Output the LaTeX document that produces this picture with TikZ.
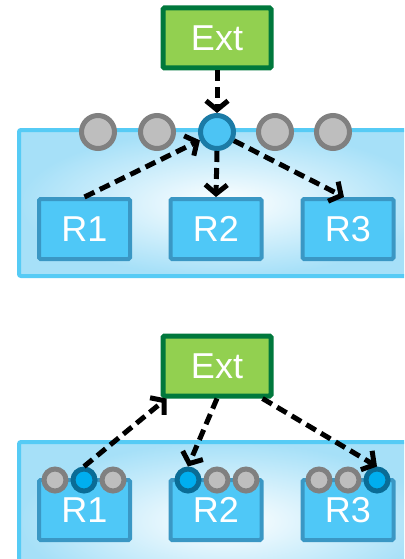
\documentclass[tikz,border=0pt]{standalone}
\usepackage{fontspec}
\setmainfont{Liberation Sans}
\usetikzlibrary{arrows.meta}
\definecolor{extfill}{HTML}{92D050}
\definecolor{extdraw}{HTML}{00783C}
\definecolor{rfill}{HTML}{4FC8F7}
\definecolor{rdraw}{HTML}{3A97C4}
\definecolor{contdraw}{HTML}{56CBF5}
\definecolor{contout}{HTML}{A6E0F8}
\definecolor{gfill}{HTML}{BEBEBE}
\definecolor{gdraw}{HTML}{808080}
\definecolor{bfill}{HTML}{4CC4F4}
\definecolor{bdraw}{HTML}{1B7BA6}
\definecolor{sbfill}{HTML}{00AEEF}
\definecolor{sbdraw}{HTML}{0A6C96}
\tikzset{
  cont/.style={draw=contdraw, line width=4pt, rounded corners=2pt, outer color=contout, inner color=white},
  extbox/.style={draw=extdraw, fill=extfill, line width=5pt, rounded corners=1.5pt, minimum width=108pt, minimum height=60pt, text=white, font=\fontsize{36}{36}\selectfont, inner sep=0pt},
  rbox/.style={draw=rdraw, fill=rfill, line width=4pt, rounded corners=1.5pt, minimum width=91pt, minimum height=60pt, text=white, font=\fontsize{36}{36}\selectfont, inner sep=0pt},
  gdot/.style={circle, draw=gdraw, fill=gfill, line width=5pt, minimum size=33pt, inner sep=0pt},
  bdot/.style={circle, draw=bdraw, fill=bfill, line width=5pt, minimum size=33pt, inner sep=0pt},
  gsdot/.style={circle, draw=gdraw, fill=gfill, line width=5pt, minimum size=22pt, inner sep=0pt},
  bsdot/.style={circle, draw=sbdraw, fill=sbfill, line width=5pt, minimum size=22pt, inner sep=0pt},
  darr/.style={line width=5pt, dash pattern=on 11pt off 6pt, -{Straight Barb[length=9pt,width=22pt]}},
}
\begin{document}
\begin{tikzpicture}[x=1pt,y=-1pt]
\useasboundingbox (0,0) rectangle (404,559);
\clip (0,0) rectangle (404,559);
% ---------- top ----------
\path[cont] (19,130) rectangle (430,276);
\node[extbox] (E1) at (217,38) {Ext};
\node[rbox] (R1a) at (84.5,229) {R1};
\node[rbox] (R2a) at (216,229) {R2};
\node[rbox] (R3a) at (348,229) {R3};
\node[gdot] (c1) at (98,132) {};
\node[gdot] (c2) at (157,132) {};
\node[bdot] (c3) at (217,132) {};
\node[gdot] (c4) at (275,132) {};
\node[gdot] (c5) at (333,132) {};
\draw[darr] (E1.south) -- (c3.north);
\draw[darr] (R1a.north) -- (c3);
\draw[darr] (c3.south) -- (R2a.north);
\draw[darr] (c3) -- ([xshift=-4pt]R3a.north);
% ---------- bottom ----------
\path[cont] (19,442) rectangle (430,600);
\node[extbox] (E2) at (217,366) {Ext};
\node[rbox] (R1b) at (84.5,510) {R1};
\node[rbox] (R2b) at (216,510) {R2};
\node[rbox] (R3b) at (348,510) {R3};
\node[gsdot] (b11) at (55,480) {};
\node[bsdot] (b12) at (84,480) {};
\node[gsdot] (b13) at (113,480) {};
\node[bsdot] (b21) at (188,480) {};
\node[gsdot] (b22) at (217,480) {};
\node[gsdot] (b23) at (246,480) {};
\node[gsdot] (b31) at (319,480) {};
\node[gsdot] (b32) at (348,480) {};
\node[bsdot] (b33) at (377,480) {};
\draw[darr] (b12.north) -- ([xshift=6pt]E2.south west);
\draw[darr] (E2.south) -- (b21.north);
\draw[darr] ([xshift=-11pt]E2.south east) -- (b33.north);
\end{tikzpicture}
\end{document}
